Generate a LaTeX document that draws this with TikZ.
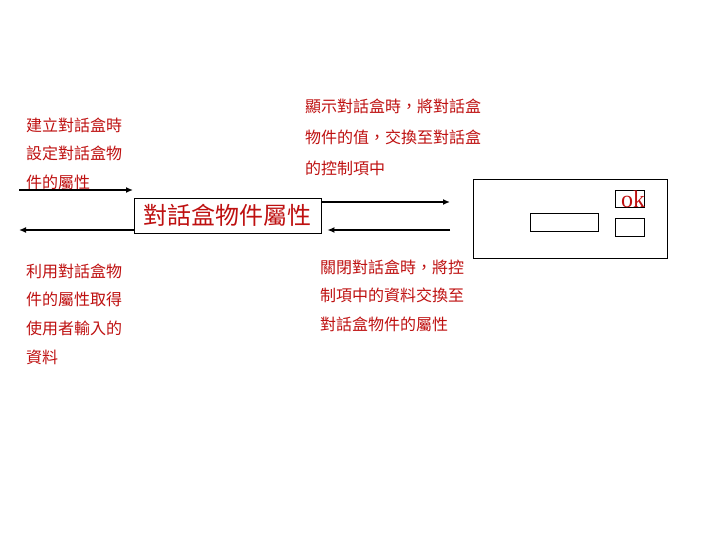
\documentclass[tikz,border=0pt]{standalone}
\usepackage{fontspec}
\usepackage{tikz}
\usetikzlibrary{arrows.meta}
\newfontfamily\cjk{Noto Sans CJK TC}
\setmainfont{Liberation Serif}
\definecolor{myred}{RGB}{190,16,16}

\begin{document}
\begin{tikzpicture}[x=1pt,y=-1pt,
  note/.style={text=myred, font=\cjk\fontsize{16}{28.5}\selectfont, align=left, anchor=north west, inner sep=0pt},
  flow/.style={line width=1.9pt, -{Latex[length=7pt,width=6pt]}},
  box/.style={draw, line width=0.8pt, inner sep=0pt}]
  \useasboundingbox (0,0) rectangle (720,540);

  % the property object in the middle
  \node[box, minimum width=187pt, minimum height=35pt, text=myred, font=\cjk\fontsize{24}{24}\selectfont] (prop) at (227.5,215.5) {對話盒物件屬性};

  % the dialog box on the right
  \node[box, minimum width=194pt, minimum height=79pt] (dlg) at (570,218.5) {};
  \node[box, minimum width=68pt, minimum height=18pt] (field) at (564,222) {};
  \node[box, minimum width=29pt, minimum height=17pt] (okbtn) at (629.5,198.5) {};
  \node[box, minimum width=29pt, minimum height=18pt] (btn) at (629.5,227.5) {};
  \node[text=myred, font=\fontsize{24}{24}\selectfont, anchor=base east, inner sep=0pt] (oklabel) at ([xshift=1pt,yshift=-0.5pt]okbtn.south east) {ok};

  % texts
  \node[note] (setup) at (26,117.5) {建立對話盒時\\設定對話盒物\\件的屬性};
  \node[note, font=\cjk\fontsize{16}{31}\selectfont] (show) at (305,98.5) {顯示對話盒時，將對話盒\\物件的值，交換至對話盒\\的控制項中};
  \node[note, font=\cjk\fontsize{16}{28.7}\selectfont] (read) at (26,263.5) {利用對話盒物\\件的屬性取得\\使用者輸入的\\資料};
  \node[note] (close) at (320,259.5) {關閉對話盒時，將控\\制項中的資料交換至\\對話盒物件的屬性};

  % arrows
  \coordinate (inL) at (19,190);
  \coordinate (inR) at (133,190);
  \coordinate (outL) at (19,230);
  \coordinate (toDlg) at (450,202);
  \coordinate (fromDlg) at (450,230);
  \draw[flow] (inL) -- (inR);
  \draw[flow] (prop.west |- outL) -- (outL);
  \draw[flow] (prop.east |- toDlg) -- (toDlg);
  \draw[flow] (fromDlg) -- ([xshift=6pt]prop.east |- fromDlg);
\end{tikzpicture}
\end{document}
